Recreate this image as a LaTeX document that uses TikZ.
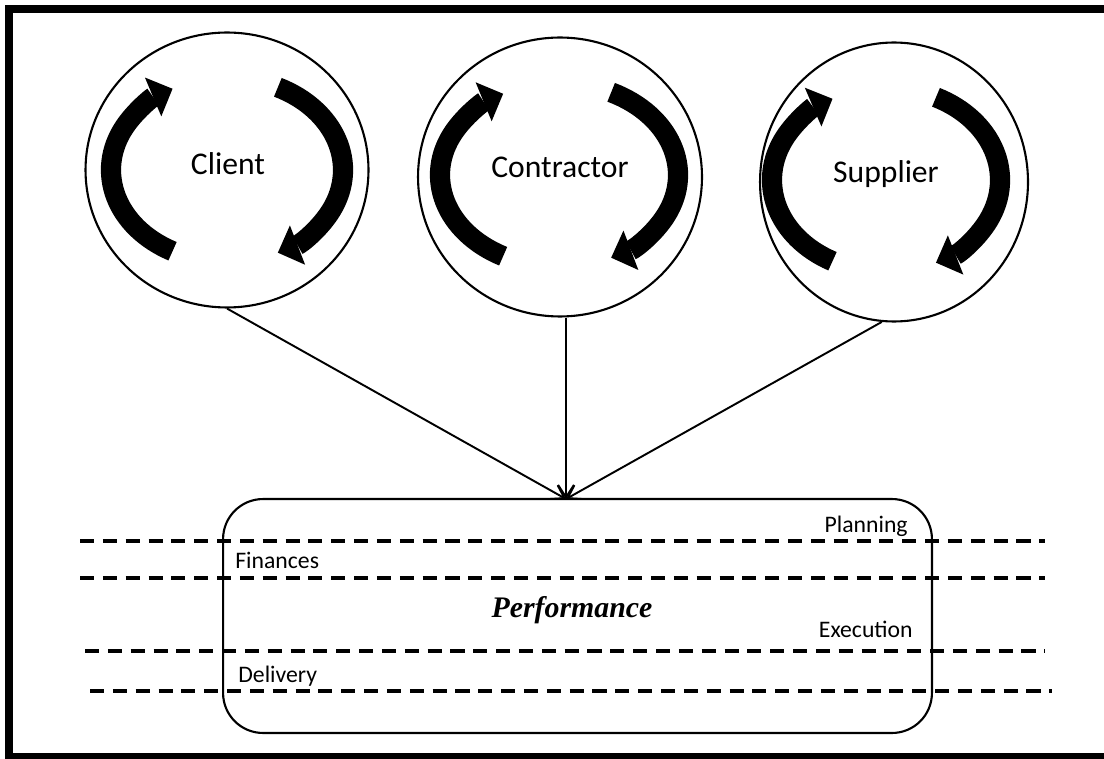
\documentclass[tikz,border=0pt]{standalone}
\usepackage{fontspec}
\setmainfont{Carlito}
\newfontfamily\perffont{Liberation Serif}
\usetikzlibrary{arrows.meta, shapes.geometric}
\tikzset{>={Straight Barb[length=7pt,width=9pt]}}

\begin{document}
\begin{tikzpicture}[x=0.02cm, y=0.02cm,
    party/.style={draw, ellipse, line width=1.2pt, inner sep=0pt},
    partytext/.style={anchor=base, inner sep=0pt, font=\fontsize{18}{20}\selectfont},
    turn arrow/.style={line width=11.5pt, -{Triangle[length=12pt, width=24pt, line width=0pt]}},
    band/.style={line width=2pt, dash pattern=on 8pt off 5pt},
    bandtext/.style={inner sep=0pt, font=\fontsize{13.5}{15}\selectfont},
    link/.style={->, line width=1.1pt}]
    \useasboundingbox (0,0) rectangle (1104,758);
    \fill[white] (-30,-30) rectangle (1140,790);
    % frame (open on the right)
    \draw[line width=4.6pt] (1104,1) -- (9,1) -- (9,749) -- (1104,749);
    % the three parties
    \node[party, minimum width=5.66cm, minimum height=5.5cm] (client) at (227,588) {};
    \node[party, minimum width=5.68cm, minimum height=5.58cm] (contractor) at (560,581) {};
    \node[party, minimum width=5.36cm, minimum height=5.58cm] (supplier) at (894,576) {};
    \node[partytext] (clienttext) at (228,583) {Client};
    \node[partytext] (contractortext) at (560,580) {Contractor};
    \node[partytext] (suppliertext) at (886,575) {Supplier};
    \coordinate (clientturn) at (227,588);
    \coordinate (contractorturn) at (559,583);
    \coordinate (supplierturn) at (886,578);
    \foreach \turn/\rx in {clientturn/116, contractorturn/119, supplierturn/114} {
        \draw[turn arrow, shift={(\turn)}] ({\rx*cos(242)},{92*sin(242)}) arc[start angle=242, end angle=118, x radius=\rx, y radius=92];
        \draw[turn arrow, shift={(\turn)}] ({\rx*cos(64)},{92*sin(64)}) arc[start angle=64, end angle=-64, x radius=\rx, y radius=92];
    }
    % performance box
    \node[draw, rounded corners=0.8cm, line width=1.2pt, minimum width=14.18cm, minimum height=4.68cm] (perf) at (577.5,142) {};
    \coordinate (meet) at (566,259);
    \draw[band] (80,217) -- (1045,217);
    \draw[band] (80,180) -- (1045,180);
    \draw[band] (85,107) -- (1045,107);
    \draw[band] (90,67) -- (1052,67);
    \node[bandtext, anchor=base east] (planning) at (908,226) {Planning};
    \node[bandtext, anchor=base west] (finances) at (235,190) {Finances};
    \node[bandtext, anchor=base east] (execution) at (913,121) {Execution};
    \node[bandtext, anchor=base west] (delivery) at (238,76) {Delivery};
    \node[anchor=base, inner sep=0pt, font=\perffont\bfseries\itshape\fontsize{17}{19}\selectfont] (perftext) at (572,141) {Performance};
    % links
    \draw[link] (client.south) -- (meet);
    \draw[link] (contractor.south -| meet) -- (meet);
    \draw[link] (supplier.265) -- (meet);
\end{tikzpicture}
\end{document}
